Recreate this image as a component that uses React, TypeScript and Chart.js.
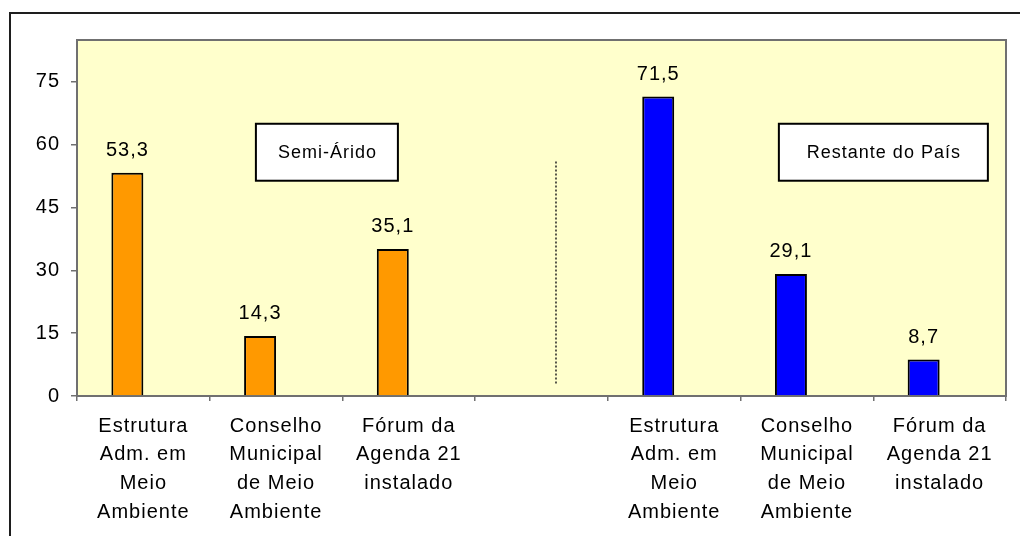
import { useEffect, useRef } from "react";
import { Chart, registerables } from "chart.js";
Chart.register(...registerables);

const categories: (string | string[])[] = [
  ["Estrutura", "Adm. em", "Meio", "Ambiente"],
  ["Conselho", "Municipal", "de Meio", "Ambiente"],
  ["Fórum da", "Agenda 21", "instalado"],
  "",
  ["Estrutura", "Adm. em", "Meio", "Ambiente"],
  ["Conselho", "Municipal", "de Meio", "Ambiente"],
  ["Fórum da", "Agenda 21", "instalado"],
];
const values: (number | null)[] = [53.3, 14.3, 35.1, null, 71.5, 29.1, 8.7];
const emptySeries: (number | null)[] = [null, null, null, null, null, null, null];
const barColors = ["#FF9900", "#FF9900", "#FF9900", "#FF9900", "#0000FF", "#0000FF", "#0000FF"];
const groupLabels = ["Semi-Árido", "Restante do País"];
const yTicks = [0, 15, 30, 45, 60, 75];
const yMin = 0;
const yMax = 85;

const FONT = "'Liberation Sans', Arial, sans-serif";

const decorPlugin = {
  id: "decor",
  beforeDraw(chart: any) {
    const { ctx, chartArea: a, width, height } = chart;
    ctx.save();
    ctx.fillStyle = "#ffffff";
    ctx.fillRect(0, 0, width, height);
    ctx.fillStyle = "#FFFFCC";
    ctx.fillRect(a.left, a.top, a.right - a.left, a.bottom - a.top);
    ctx.restore();
    ctx.letterSpacing = "1px";
  },
  beforeDatasetsDraw(chart: any) {
    const { ctx, chartArea: a } = chart;
    ctx.save();
    ctx.strokeStyle = "#707070";
    ctx.lineWidth = 2;
    ctx.strokeRect(a.left, a.top, a.right - a.left, a.bottom - a.top);
    ctx.restore();
  },
  afterDatasetsDraw(chart: any) {
    const { ctx, chartArea: a, scales } = chart;
    const x = scales.x;
    const y = scales.y;
    ctx.save();
    // data labels
    ctx.letterSpacing = "1px";
    ctx.font = `20px ${FONT}`;
    ctx.fillStyle = "#000";
    ctx.textAlign = "center";
    ctx.textBaseline = "alphabetic";
    const meta = chart.getDatasetMeta(0);
    meta.data.forEach((bar: any, i: number) => {
      const v = values[i];
      if (v == null) return;
      ctx.fillText(v.toFixed(1).replace(".", ","), bar.x, bar.y - 17);
    });
    // dotted separator
    const sepX = a.left + (a.right - a.left) * 0.5156;
    ctx.strokeStyle = "#222";
    ctx.lineWidth = 1.5;
    ctx.setLineDash([2, 2]);
    ctx.beginPath();
    ctx.moveTo(sepX, y.getPixelForValue(56));
    ctx.lineTo(sepX, y.getPixelForValue(2.6));
    ctx.stroke();
    ctx.setLineDash([]);
    // group boxes
    const boxes = [
      { label: groupLabels[0], cx: 0.269, w: 142 },
      { label: groupLabels[1], cx: 0.868, w: 209 },
    ];
    const top = y.getPixelForValue(65);
    const bottom = y.getPixelForValue(51.4);
    ctx.font = `18px ${FONT}`;
    ctx.textBaseline = "middle";
    boxes.forEach((b) => {
      const cx = a.left + (a.right - a.left) * b.cx;
      ctx.fillStyle = "#fff";
      ctx.fillRect(cx - b.w / 2, top, b.w, bottom - top);
      ctx.strokeStyle = "#000";
      ctx.lineWidth = 2;
      ctx.strokeRect(cx - b.w / 2, top, b.w, bottom - top);
      ctx.fillStyle = "#000";
      ctx.fillText(b.label, cx + 0.5, (top + bottom) / 2 + 1);
    });
    ctx.restore();
    void x;
  },
  afterDraw(chart: any) {
    const { ctx, width, height } = chart;
    ctx.save();
    ctx.strokeStyle = "#1e1e1e";
    ctx.lineWidth = 2;
    ctx.beginPath();
    ctx.moveTo(10, height + 5);
    ctx.lineTo(10, 13);
    ctx.lineTo(width + 5, 13);
    ctx.stroke();
    ctx.restore();
  },
};

export default function App() {
  const ref = useRef<HTMLCanvasElement>(null);
  useEffect(() => {
    if (!ref.current) return;
    const chart = new Chart(ref.current, {
      type: "bar",
      data: {
        labels: categories,
        datasets: [
          {
            data: values,
            backgroundColor: barColors,
            borderColor: "#000",
            borderWidth: 2,
            categoryPercentage: 0.482,
            barPercentage: 1,
          },
          {
            data: emptySeries,
            backgroundColor: "transparent",
            borderWidth: 0,
            categoryPercentage: 0.482,
            barPercentage: 1,
          },
        ],
      } as any,
      options: {
        animation: false,
        responsive: false,
        maintainAspectRatio: false,
        layout: { padding: { left: 0, top: 40, right: 14, bottom: 0 } },
        plugins: {
          legend: { display: false },
          tooltip: { enabled: false },
          title: { display: false },
        },
        scales: {
          x: {
            offset: true,
            grid: {
              offset: true,
              drawOnChartArea: false,
              drawTicks: true,
              tickLength: 5,
              color: "#707070",
              lineWidth: 1.5,
            },
            border: { display: true, color: "#707070", width: 2 },
            ticks: {
              color: "#000",
              font: { family: FONT, size: 20, lineHeight: 1.43 },
              padding: 11,
              maxRotation: 0,
              minRotation: 0,
              autoSkip: false,
            },
            afterFit(scale: any) {
              scale.height = 140;
            },
          },
          y: {
            min: yMin,
            max: yMax,
            grid: {
              drawOnChartArea: false,
              drawTicks: true,
              tickLength: 6,
              color: "#707070",
              lineWidth: 1.5,
            },
            border: { display: true, color: "#707070", width: 2 },
            ticks: {
              color: "#000",
              font: { family: FONT, size: 20 },
              padding: 11,
            },
            afterBuildTicks(scale: any) {
              scale.ticks = yTicks.map((v) => ({ value: v }));
            },
            afterFit(scale: any) {
              scale.width = 77;
            },
          },
        },
      } as any,
      plugins: [decorPlugin],
    });
    return () => chart.destroy();
  }, []);
  return (
    <div style={{ position: "fixed", left: 0, top: 0, width: 1020, height: 536, background: "#fff" }}>
      <canvas ref={ref} width={1020} height={536} style={{ display: "block", width: 1020, height: 536 }} />
    </div>
  );
}
